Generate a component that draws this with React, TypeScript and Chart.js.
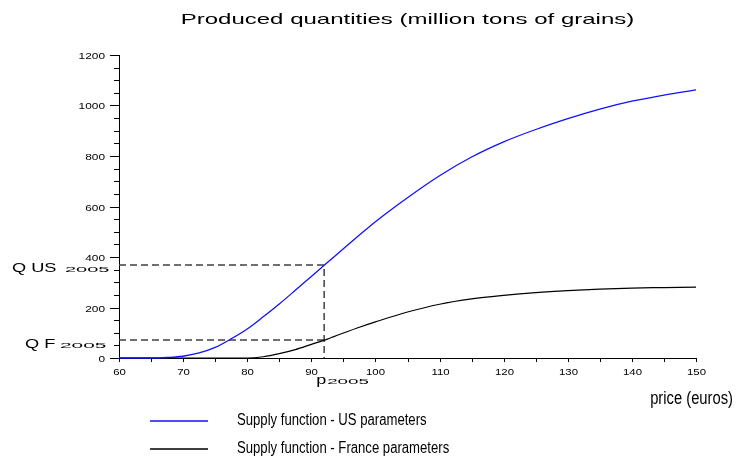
import { useEffect, useRef } from "react";
import { Chart, registerables } from "chart.js";

Chart.register(...registerables);

const prices = [60, 62.5, 65, 67.5, 70, 72.5, 75, 77.5, 80, 82.5, 85, 87.5, 90, 92.5, 95, 97.5, 100, 105, 110, 115, 120, 125, 130, 135, 140, 145, 150];
const usSupply = [0, 0, 0, 2, 7, 20, 42, 76, 115, 163, 214, 268, 323, 378, 433, 487, 540, 635, 722, 796, 856, 905, 948, 986, 1017, 1041, 1062];
const frSupply = [0, 0, 0, 0, 0, 0, 0, 0, 0, 5, 17, 33, 54, 75, 99, 122, 143, 182, 213, 234, 248, 259, 267, 273, 277, 279, 281];

const P2005 = 92;
const QUS2005 = 368;
const QF2005 = 71;

const xMin = 60;
const xMax = 150;
const yMin = 0;
const yMax = 1200;

const titleText = "Produced quantities (million tons of grains)";
const xAxisText = "price (euros)";
const seriesLabels = ["Supply function - US parameters", "Supply function - France parameters"];
const seriesColors = ["#1010ff", "#000000"];

function stretchText(ctx: CanvasRenderingContext2D, text: string, x: number, y: number, font: string, sx: number, align: CanvasTextAlign, color = "#000") {
  ctx.save();
  ctx.translate(x, y);
  ctx.scale(sx, 1);
  ctx.font = font;
  ctx.fillStyle = color;
  ctx.textAlign = align;
  ctx.textBaseline = "alphabetic";
  ctx.fillText(text, 0, 0);
  ctx.restore();
}

const decorPlugin = {
  id: "decor",
  afterDraw(chart: any) {
    const ctx: CanvasRenderingContext2D = chart.ctx;
    const xs = chart.scales.x;
    const ys = chart.scales.y;
    const area = chart.chartArea;
    const tickFont = '9.5px "Liberation Sans", Arial, sans-serif';
    ctx.save();
    ctx.strokeStyle = "#000";
    ctx.lineWidth = 1;
    // y ticks
    ys.ticks.forEach((t: any) => {
      const py = Math.round(ys.getPixelForValue(t.value)) + 0.5;
      const major = t.value % 200 === 0;
      ctx.beginPath();
      ctx.moveTo(area.left - (major ? 9 : 5), py);
      ctx.lineTo(area.left, py);
      ctx.stroke();
      if (major) {
        stretchText(ctx, String(t.value), area.left - 14, py + 3.5, tickFont, 1.25, "right");
      }
    });
    // x ticks
    xs.ticks.forEach((t: any) => {
      const px = Math.round(xs.getPixelForValue(t.value)) + 0.5;
      ctx.beginPath();
      ctx.moveTo(px, area.bottom);
      ctx.lineTo(px, area.bottom + 4);
      ctx.stroke();
      if (t.value % 10 === 0) {
        stretchText(ctx, String(t.value), px, area.bottom + 17, tickFont, 1.2, "center");
      }
    });
    // title
    stretchText(ctx, titleText, (area.left + area.right) / 2, 24, '15px "Liberation Sans", Arial, sans-serif', 1.6, "center");
    // Q labels
    const qusY = ys.getPixelForValue(QUS2005);
    const qfY = ys.getPixelForValue(QF2005);
    stretchText(ctx, "Q US", 12, qusY + 7, '13px "Liberation Sans", Arial, sans-serif', 1.4, "left");
    stretchText(ctx, "2005", 65, qusY + 7, '8px "Liberation Sans", Arial, sans-serif', 2.5, "left");
    stretchText(ctx, "Q F", 25, qfY + 8, '13px "Liberation Sans", Arial, sans-serif', 1.4, "left");
    stretchText(ctx, "2005", 60, qfY + 8, '8px "Liberation Sans", Arial, sans-serif', 2.6, "left");
    // p2005
    const pX = xs.getPixelForValue(P2005);
    stretchText(ctx, "p", pX - 8, area.bottom + 26, '12px "Liberation Sans", Arial, sans-serif', 1.5, "left");
    stretchText(ctx, "2005", pX + 3, area.bottom + 26, '8px "Liberation Sans", Arial, sans-serif', 2.35, "left");
    // x axis title
    stretchText(ctx, xAxisText, 733, 404, '18px "Liberation Sans", Arial, sans-serif', 0.82, "right");
    // legend
    const legY = [421, 449];
    chart.data.datasets.slice(0, 2).forEach((ds: any, i: number) => {
      ctx.beginPath();
      ctx.strokeStyle = ds.borderColor;
      ctx.lineWidth = 1.3;
      ctx.moveTo(150, legY[i]);
      ctx.lineTo(208, legY[i]);
      ctx.stroke();
      stretchText(ctx, ds.label, 237, legY[i] + 4, '16px "Liberation Sans", Arial, sans-serif', 0.82, "left");
    });
    ctx.restore();
  },
};

export default function App() {
  const ref = useRef<HTMLCanvasElement | null>(null);
  useEffect(() => {
    document.body.style.margin = "0";
    const canvas = ref.current;
    if (!canvas) return;
    const toPts = (ys: number[]) => prices.map((p, i) => ({ x: p, y: ys[i] }));
    const chart = new Chart(canvas, {
      type: "line",
      data: {
        datasets: [
          {
            label: seriesLabels[0],
            data: toPts(usSupply),
            borderColor: seriesColors[0],
            borderWidth: 1.3,
            pointRadius: 0,
            cubicInterpolationMode: "monotone",
            fill: false,
            clip: false as any,
          },
          {
            label: seriesLabels[1],
            data: toPts(frSupply),
            borderColor: seriesColors[1],
            borderWidth: 1.2,
            pointRadius: 0,
            cubicInterpolationMode: "monotone",
            fill: false,
            clip: false as any,
          },
          {
            label: "US guide",
            data: [
              { x: xMin, y: QUS2005 },
              { x: P2005, y: QUS2005 },
              { x: P2005, y: yMin },
            ],
            borderColor: "#404040",
            borderWidth: 1.5,
            borderDash: [7, 4],
            pointRadius: 0,
            tension: 0,
            fill: false,
          },
          {
            label: "FR guide",
            data: [
              { x: xMin, y: QF2005 },
              { x: P2005, y: QF2005 },
            ],
            borderColor: "#404040",
            borderWidth: 1.5,
            borderDash: [7, 4],
            pointRadius: 0,
            tension: 0,
            fill: false,
          },
        ],
      },
      options: {
        animation: false,
        responsive: false,
        layout: { padding: { top: 55, right: 47, left: 0, bottom: 0 } },
        plugins: { legend: { display: false }, title: { display: false }, tooltip: { enabled: false } },
        scales: {
          x: {
            type: "linear",
            min: xMin,
            max: xMax,
            ticks: { stepSize: 5, display: false },
            grid: { display: false },
            border: { display: true, color: "#000", width: 1 },
            afterFit: (s: any) => {
              s.height = 108;
            },
          },
          y: {
            type: "linear",
            min: yMin,
            max: yMax,
            ticks: { stepSize: 50, display: false },
            grid: { display: false },
            border: { display: true, color: "#000", width: 1 },
            afterFit: (s: any) => {
              s.width = 119;
            },
          },
        },
      },
      plugins: [decorPlugin],
    });
    return () => chart.destroy();
  }, []);
  return (
    <div style={{ position: "absolute", left: 0, top: 0, width: 743, height: 466, background: "#fff" }}>
      <canvas ref={ref} width={743} height={466} style={{ display: "block" }} />
    </div>
  );
}
